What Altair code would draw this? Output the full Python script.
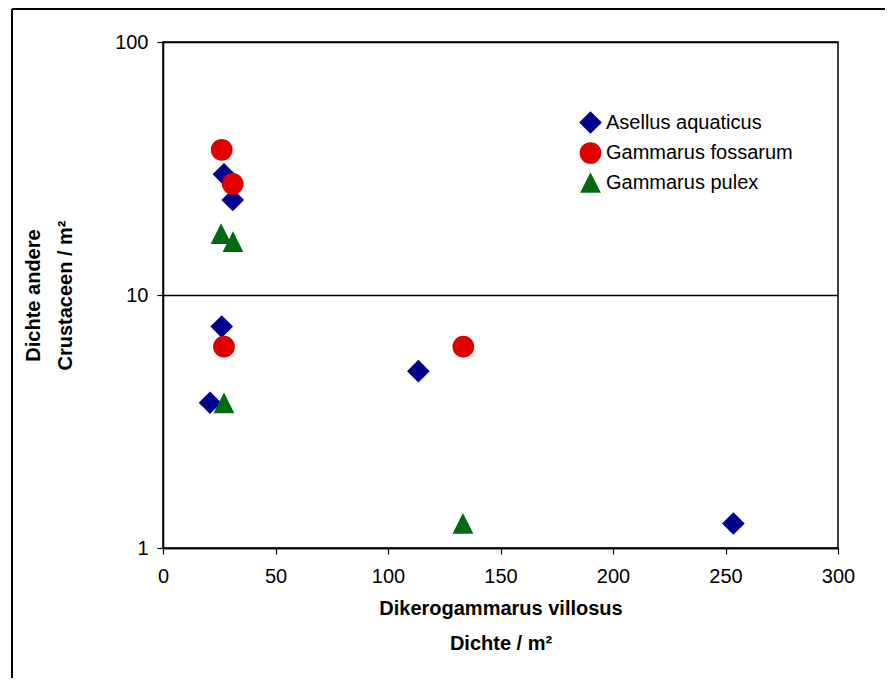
import altair as alt
import pandas as pd

species = ["Asellus aquaticus", "Gammarus fossarum", "Gammarus pulex"]
colors = ["#00008E", "#E00000", "#006A10"]
shapes = ["diamond", "circle", "M-1,1L0,-1L1,1Z"]
sizes = [515, 430, 515]

asellus_x = [27.1, 31.0, 26.1, 20.9, 113.5, 253.5]
asellus_y = [30.0, 23.75, 7.5, 3.75, 5.0, 1.25]
fossarum_x = [26.1, 31.0, 27.1, 133.5]
fossarum_y = [37.5, 27.5, 6.25, 6.25]
pulex_x = [25.8, 31.1, 27.1, 133.3]
pulex_y = [17.5, 16.25, 3.75, 1.25]

x_ticks = [0, 50, 100, 150, 200, 250, 300]
y_ticks = [1, 10, 100]

rows = []
for name, xs, ys in [(species[0], asellus_x, asellus_y),
                     (species[1], fossarum_x, fossarum_y),
                     (species[2], pulex_x, pulex_y)]:
    for a, b in zip(xs, ys):
        rows.append({"species": name, "x": a, "y": b})
df = pd.DataFrame(rows)

FONT = "Liberation Sans"

leg = alt.Legend(title=None, orient="none", legendX=416, legendY=69,
                 padding=0, symbolSize=400, rowPadding=8,
                 labelFontSize=20, labelFont=FONT, labelOffset=4, labelLimit=0,
                 symbolStrokeWidth=0, labelColor="black")

points = alt.Chart(df).mark_point(filled=True, opacity=1, strokeWidth=0).encode(
    x=alt.X("x:Q",
            scale=alt.Scale(domain=[0, 300], nice=False, zero=False),
            axis=alt.Axis(values=x_ticks, grid=False, tickSize=6, labelPadding=12,
                          labelFlush=False,
                          title=["Dikerogammarus villosus", "Dichte / m²"],
                          titleLineHeight=35, titlePadding=12)),
    y=alt.Y("y:Q",
            scale=alt.Scale(type="log", domain=[1, 100], nice=False),
            axis=alt.Axis(values=y_ticks, format="d", grid=True, gridColor="black",
                          gridWidth=1.5, gridOpacity=1, tickSize=6, labelPadding=9,
                          title=["Dichte andere", "Crustaceen / m²"],
                          titleLineHeight=32, titlePadding=39)),
    color=alt.Color("species:N", scale=alt.Scale(domain=species, range=colors), legend=leg),
    shape=alt.Shape("species:N", scale=alt.Scale(domain=species, range=shapes), legend=leg),
    size=alt.Size("species:N", scale=alt.Scale(domain=species, range=sizes), legend=None),
)

one = pd.DataFrame({"f": [0]})
top_line = alt.Chart(one).mark_rule(color="black", strokeWidth=2).encode(
    x=alt.value(-151), x2=alt.value(722), y=alt.value(-33))
left_line = alt.Chart(one).mark_rule(color="black", strokeWidth=2).encode(
    x=alt.value(-151), y=alt.value(-33), y2=alt.value(660))

chart = alt.layer(top_line, left_line, points).properties(
    width=675, height=506,
    autosize=alt.AutoSizeParams(type="none"),
    padding={"left": 155, "top": 34, "right": 48, "bottom": 130},
).configure(
    background="white"
).configure_view(
    stroke="black", strokeWidth=1.5
).configure_axis(
    domainColor="black", domainWidth=1.5, tickColor="black", tickWidth=1.2,
    labelFont=FONT, labelFontSize=20, labelColor="black",
    titleFont=FONT, titleFontSize=20, titleFontWeight="bold", titleColor="black",
)

chart.save("out.html", embed_options={"renderer": "svg", "actions": False})
